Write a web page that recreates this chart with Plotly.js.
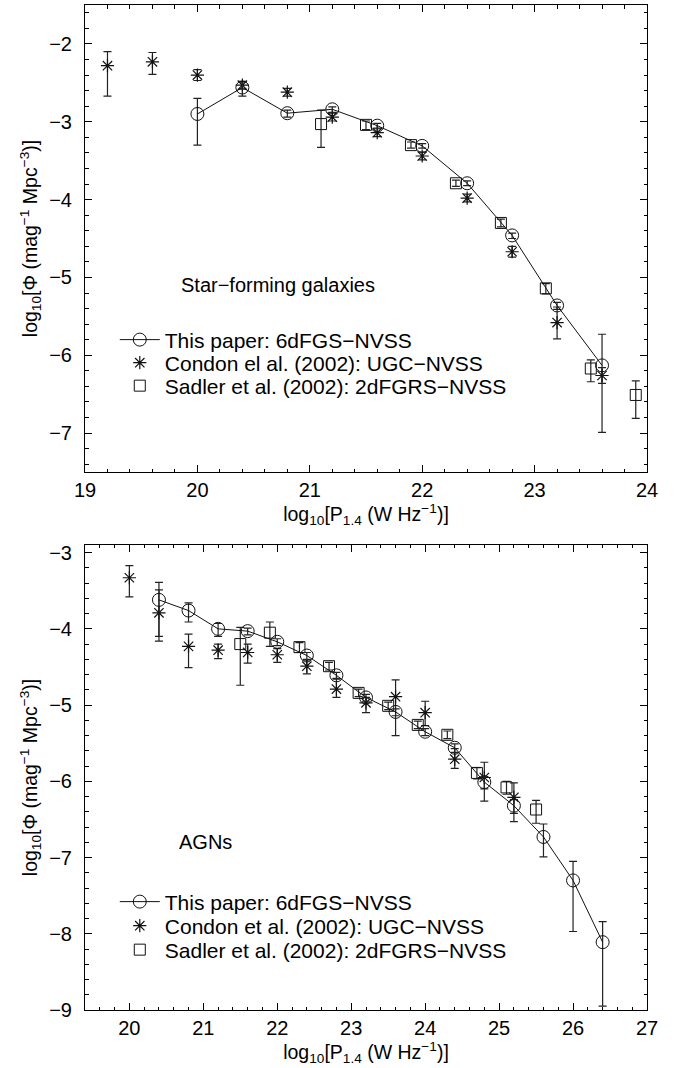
<!DOCTYPE html>
<html><head><meta charset="utf-8">
<script src="https://cdn.plot.ly/plotly-3.0.1.min.js"></script>
<style>body{margin:0;background:#fff}#g{width:681px;height:1068px}</style>
</head><body><div id="g"></div>
<script>
// ---- Star-forming galaxies (top panel) ----
const sfPaperX = [20.0, 20.4, 20.8, 21.2, 21.6, 22.0, 22.4, 22.8, 23.2, 23.6];
const sfPaperY = [-2.90, -2.56, -2.89, -2.84, -3.05, -3.31, -3.79, -4.46, -5.36, -6.13];
const sfPaperErrP = [0.20, 0.07, 0.04, 0.03, 0.03, 0.03, 0.03, 0.03, 0.04, 0.40];
const sfPaperErrM = [0.40, 0.11, 0.05, 0.04, 0.03, 0.03, 0.03, 0.04, 0.05, 0.86];

const sfCondonX = [19.2, 19.6, 20.0, 20.4, 20.8, 21.2, 21.6, 22.0, 22.4, 22.8, 23.2, 23.6];
const sfCondonY = [-2.28, -2.23, -2.40, -2.53, -2.62, -2.94, -3.14, -3.44, -3.98, -4.67, -5.58, -6.26];
const sfCondonErrP = [0.18, 0.12, 0.07, 0.05, 0.05, 0.05, 0.05, 0.05, 0.05, 0.07, 0.20, 0.10];
const sfCondonErrM = [0.39, 0.16, 0.07, 0.05, 0.05, 0.05, 0.05, 0.05, 0.05, 0.07, 0.21, 0.10];

const sfSadlerX = [21.1, 21.5, 21.9, 22.3, 22.7, 23.1, 23.5, 23.9];
const sfSadlerY = [-3.03, -3.04, -3.30, -3.79, -4.30, -5.14, -6.17, -6.51];
const sfSadlerErrP = [0.18, 0.05, 0.04, 0.04, 0.05, 0.06, 0.11, 0.18];
const sfSadlerErrM = [0.30, 0.06, 0.04, 0.04, 0.05, 0.07, 0.17, 0.30];

// ---- AGNs (bottom panel) ----
const agnPaperX = [20.4, 20.8, 21.2, 21.6, 22.0, 22.4, 22.8, 23.2, 23.6, 24.0, 24.4, 24.8, 25.2, 25.6, 26.0, 26.4];
const agnPaperY = [-3.62, -3.76, -4.00, -4.03, -4.17, -4.35, -4.61, -4.90, -5.09, -5.35, -5.56, -6.01, -6.32, -6.73, -7.30, -8.11];
const agnPaperErrP = [0.23, 0.10, 0.07, 0.04, 0.04, 0.04, 0.04, 0.04, 0.04, 0.04, 0.05, 0.07, 0.08, 0.17, 0.25, 0.27];
const agnPaperErrM = [0.48, 0.15, 0.10, 0.05, 0.05, 0.05, 0.05, 0.05, 0.05, 0.05, 0.06, 0.09, 0.10, 0.26, 0.67, 0.84];

const agnCondonX = [20.0, 20.4, 20.8, 21.2, 21.6, 22.0, 22.4, 22.8, 23.2, 23.6, 24.0, 24.4, 24.8, 25.2];
const agnCondonY = [-3.33, -3.79, -4.23, -4.28, -4.31, -4.34, -4.49, -4.79, -4.97, -4.89, -5.10, -5.71, -5.95, -6.21];
const agnCondonErrP = [0.16, 0.30, 0.16, 0.08, 0.11, 0.08, 0.08, 0.14, 0.07, 0.22, 0.15, 0.14, 0.20, 0.19];
const agnCondonErrM = [0.25, 0.37, 0.28, 0.11, 0.14, 0.10, 0.10, 0.11, 0.13, 0.51, 0.17, 0.12, 0.31, 0.32];

const agnSadlerX = [21.5, 21.9, 22.3, 22.7, 23.1, 23.5, 23.9, 24.3, 24.7, 25.1, 25.5];
const agnSadlerY = [-4.20, -4.05, -4.24, -4.49, -4.84, -5.01, -5.26, -5.39, -5.89, -6.08, -6.37];
const agnSadlerErrP = [0.22, 0.14, 0.06, 0.05, 0.05, 0.05, 0.05, 0.05, 0.07, 0.08, 0.12];
const agnSadlerErrM = [0.54, 0.18, 0.07, 0.05, 0.05, 0.05, 0.05, 0.05, 0.08, 0.09, 0.18];

const namesTop = ['This paper: 6dFGS\u2212NVSS', 'Condon el al. (2002): UGC\u2212NVSS', 'Sadler et al. (2002): 2dFGRS\u2212NVSS'];
const namesBottom = ['This paper: 6dFGS\u2212NVSS', 'Condon et al. (2002): UGC\u2212NVSS', 'Sadler et al. (2002): 2dFGRS\u2212NVSS'];
const panelTitles = ['Star\u2212forming galaxies', 'AGNs'];

const INK = '#111';
function err(p, m){ return {type:'data', symmetric:false, array:p, arrayminus:m, color:'#222', thickness:1.2, width:4}; }

function panel(ax, legs, names, px, py, pp, pm, cx, cy, cp, cm, sx, sy, sp, sm){
  const xa = ax === 1 ? 'x' : 'x2', ya = ax === 1 ? 'y' : 'y2';
  return [
    {x:sx, y:sy, xaxis:xa, yaxis:ya, legend:legs[2], name:names[2], mode:'markers', type:'scatter',
     marker:{symbol:'square-open', size:11, color:INK, line:{width:1, color:INK}}, error_y:err(sp, sm)},
    {x:cx, y:cy, xaxis:xa, yaxis:ya, legend:legs[1], name:names[1], mode:'markers', type:'scatter',
     marker:{symbol:'asterisk-open', size:11, color:INK, line:{width:1.2, color:INK}}, error_y:err(cp, cm)},
    {x:px, y:py, xaxis:xa, yaxis:ya, legend:legs[0], name:names[0], mode:'lines+markers', type:'scatter',
     line:{color:INK, width:1}, marker:{symbol:'circle-open', size:13, color:INK, line:{width:1, color:INK}},
     error_y:err(pp, pm)}
  ];
}

const data = [].concat(
  panel(1, ['legend','legend2','legend3'], namesTop, sfPaperX, sfPaperY, sfPaperErrP, sfPaperErrM, sfCondonX, sfCondonY, sfCondonErrP, sfCondonErrM, sfSadlerX, sfSadlerY, sfSadlerErrP, sfSadlerErrM),
  panel(2, ['legend4','legend5','legend6'], namesBottom, agnPaperX, agnPaperY, agnPaperErrP, agnPaperErrM, agnCondonX, agnCondonY, agnCondonErrP, agnCondonErrM, agnSadlerX, agnSadlerY, agnSadlerErrP, agnSadlerErrM)
);

const FONT = 'Liberation Sans, Arial, Helvetica, sans-serif';
const xTitle = 'log<sub>10</sub>[P<sub>1.4</sub> (W Hz<sup>\u22121</sup>)]';
const yTitle = 'log<sub>10</sub>[\u03A6 (mag<sup>\u22121</sup> Mpc<sup>\u22123</sup>)]';

function axisCommon(){
  return {showline:true, linecolor:'#000', linewidth:1, mirror:'ticks', ticks:'inside', ticklen:7, tickwidth:1, tickcolor:'#000',
    showgrid:false, zeroline:false, dtick:1, tickfont:{size:20, color:'#000'},
    minor:{dtick:0.2, ticks:'inside', ticklen:3.5, tickcolor:'#000', tickwidth:1, showgrid:false}};
}
function leg(yc){
  return {x:0.053, y:yc, xanchor:'left', yanchor:'middle', bgcolor:'rgba(0,0,0,0)', borderwidth:0,
    font:{size:21, family:FONT}, itemwidth:40};
}

const layout = {
  width:681, height:1068, margin:{l:85, r:34, t:5, b:58},
  paper_bgcolor:'#fff', plot_bgcolor:'#fff',
  font:{family:FONT, size:20, color:'#000'},
  xaxis:Object.assign(axisCommon(), {domain:[0,1], anchor:'y', range:[19,24], tick0:19,
    title:{text:xTitle, font:{size:19.5}, standoff:4}}),
  yaxis:Object.assign(axisCommon(), {domain:[0.5353,1], anchor:'x', range:[-7.5,-1.5], tick0:-7,
    ticklabelstandoff:8, title:{text:yTitle, font:{size:19.5}, standoff:6}}),
  xaxis2:Object.assign(axisCommon(), {domain:[0,1], anchor:'y2', range:[19.4,27], tick0:20,
    title:{text:xTitle, font:{size:19.5}, standoff:4}}),
  yaxis2:Object.assign(axisCommon(), {domain:[0,0.4627], anchor:'x2', range:[-9,-2.9], tick0:-9,
    ticklabelstandoff:8, title:{text:yTitle, font:{size:19.5}, standoff:6}}),
  legend:leg(0.6667), legend2:leg(0.6438), legend3:leg(0.6209),
  legend4:leg(0.1075), legend5:leg(0.0836), legend6:leg(0.0597),
  showlegend:true,
  annotations:[
    {text:panelTitles[0], xref:'x', yref:'y', x:19.84, y:-5.10, xanchor:'left', yanchor:'middle', showarrow:false, font:{size:20}},
    {text:panelTitles[1], xref:'x2', yref:'y2', x:20.64, y:-6.79, xanchor:'left', yanchor:'middle', showarrow:false, font:{size:20}}
  ]
};

Plotly.newPlot('g', data, layout, {displayModeBar:false, staticPlot:true});
</script></body></html>
